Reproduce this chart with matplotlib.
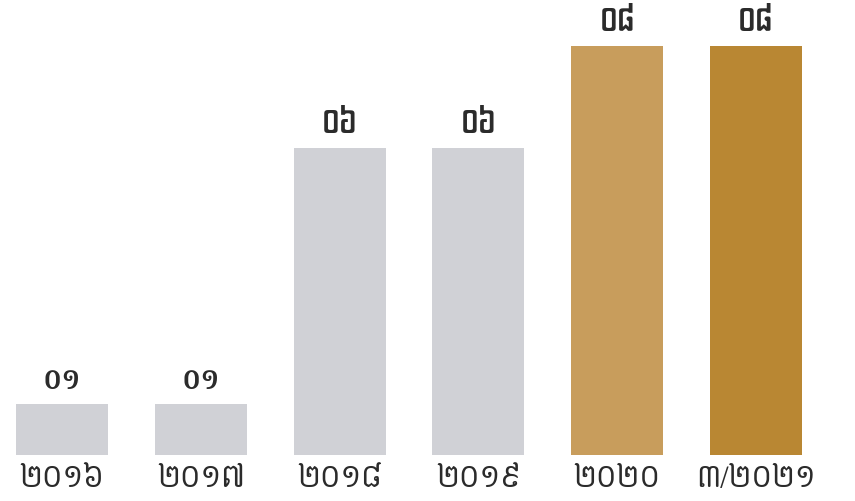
import os
import matplotlib
matplotlib.use("Agg")
import matplotlib.pyplot as plt
from matplotlib import font_manager

years = ["២០១៦", "២០១៧", "២០១៨", "២០១៩", "២០២០", "៣/២០២១"]
values = [1, 1, 6, 6, 8, 8]
value_labels = ["០១", "០១", "០៦", "០៦", "០៨", "០៨"]
colors = ["#d0d1d6", "#d0d1d6", "#d0d1d6", "#d0d1d6", "#c89d5c", "#b98733"]

GF = "/usr/share/fonts/truetype/google-fonts/"


def kfont(name, size):
    path = GF + name
    if os.path.exists(path):
        return font_manager.FontProperties(fname=path, size=size)
    return font_manager.FontProperties(family="DejaVu Sans", size=size)


year_font = kfont("Content-Regular.ttf", 21)
value_font = kfont("Dangrek-Regular.ttf", 22)
small_font = kfont("Battambang-Bold.ttf", 21)

fig = plt.figure(figsize=(8.55, 5.01), dpi=100)
ax = fig.add_axes([0, 0, 1, 1])
x = range(len(years))
ax.bar(x, values, width=0.663, color=colors)

for i, v in enumerate(values):
    fp = small_font if v == 1 else value_font
    ax.annotate(value_labels[i], (i, v), xytext=(0, 11), textcoords="offset points",
                ha="center", va="baseline", fontproperties=fp, color="#2b2b2b")
    ax.annotate(years[i], (i, 0), xytext=(0, -23), textcoords="offset points",
                ha="center", va="baseline", fontproperties=year_font, color="#2b2b2b")

ax.set_xlim(-0.447, 5.713)
ax.set_ylim(-0.9, 8.9)
ax.axis("off")
fig.savefig("out.png", dpi=100)
